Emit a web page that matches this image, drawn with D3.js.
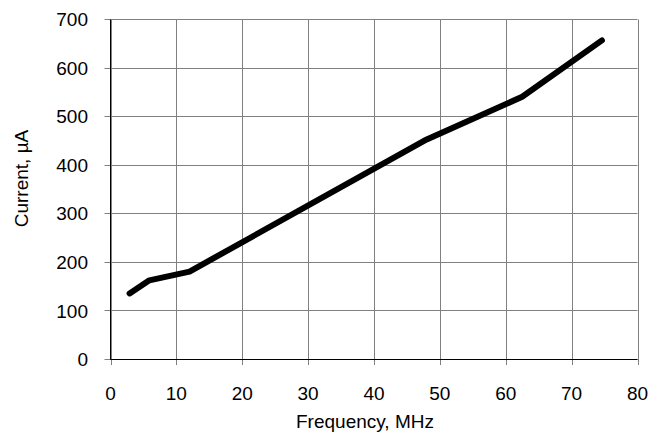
<!DOCTYPE html>
<html>
<head>
<meta charset="utf-8">
<script src="https://cdn.jsdelivr.net/npm/d3@7"></script>
<style>
html,body{margin:0;padding:0;background:#fff;}
text{font-family:"Liberation Sans",Arial,sans-serif;fill:#000;}
</style>
</head>
<body>
<svg id="chart" width="649" height="433"></svg>
<script>
const frequency = [2.9, 5.9, 12, 48, 62.5, 74.6];
const current = [136, 163, 181, 453, 541, 657];
const xTicks = [0, 10, 20, 30, 40, 50, 60, 70, 80];
const yTicks = [0, 100, 200, 300, 400, 500, 600, 700];
const xTitle = "Frequency, MHz";
const yTitle = "Current, µA";

(function () {
const svg = d3.select("#chart");
const pLeft = 110.5, pRight = 637.5, pTop = 19.5, pBottom = 359.5;
const x = d3.scaleLinear().domain([0, 80]).range([pLeft, pRight]);
const y = d3.scaleLinear().domain([0, 700]).range([pBottom, pTop]);

// grid lines
svg.append("g").selectAll("line").data(xTicks).join("line")
  .attr("x1", d => Math.round(x(d)) + 0.5).attr("x2", d => Math.round(x(d)) + 0.5)
  .attr("y1", pTop).attr("y2", pBottom + 5.5)
  .attr("stroke", "#808080").attr("stroke-width", 1);
svg.append("g").selectAll("line").data(yTicks).join("line")
  .attr("y1", d => Math.round(y(d) - 0.5) + 0.5).attr("y2", d => Math.round(y(d) - 0.5) + 0.5)
  .attr("x1", pLeft - 6).attr("x2", pRight)
  .attr("stroke", "#808080").attr("stroke-width", 1);

// axes lines
svg.append("line").attr("x1", pLeft).attr("x2", pLeft).attr("y1", pTop).attr("y2", pBottom)
  .attr("stroke", "#000").attr("stroke-width", 1);
svg.append("line").attr("x1", pLeft).attr("x2", pRight).attr("y1", pBottom).attr("y2", pBottom)
  .attr("stroke", "#000").attr("stroke-width", 1);

// tick labels
svg.append("g").selectAll("text").data(yTicks).join("text")
  .attr("x", 88).attr("y", d => y(d)).attr("dy", "0.35em")
  .attr("text-anchor", "end").style("font-size", "19px")
  .text(d => d);
svg.append("g").selectAll("text").data(xTicks).join("text")
  .attr("x", d => x(d)).attr("y", pBottom + 40.5)
  .attr("text-anchor", "middle").style("font-size", "19px")
  .text(d => d);

// titles
svg.append("text").attr("x", 365).attr("y", 428.3)
  .attr("text-anchor", "middle").style("font-size", "19px").text(xTitle);
svg.append("text").attr("transform", "translate(28,178.5) rotate(-90)")
  .attr("text-anchor", "middle").style("font-size", "19px").text(yTitle);

// data line
const line = d3.line().x((d, i) => x(frequency[i])).y(d => y(d));
svg.append("path").datum(current).attr("d", line)
  .attr("fill", "none").attr("stroke", "#000").attr("stroke-width", 6)
  .attr("stroke-linecap", "round").attr("stroke-linejoin", "round");
})();
</script>
</body>
</html>
